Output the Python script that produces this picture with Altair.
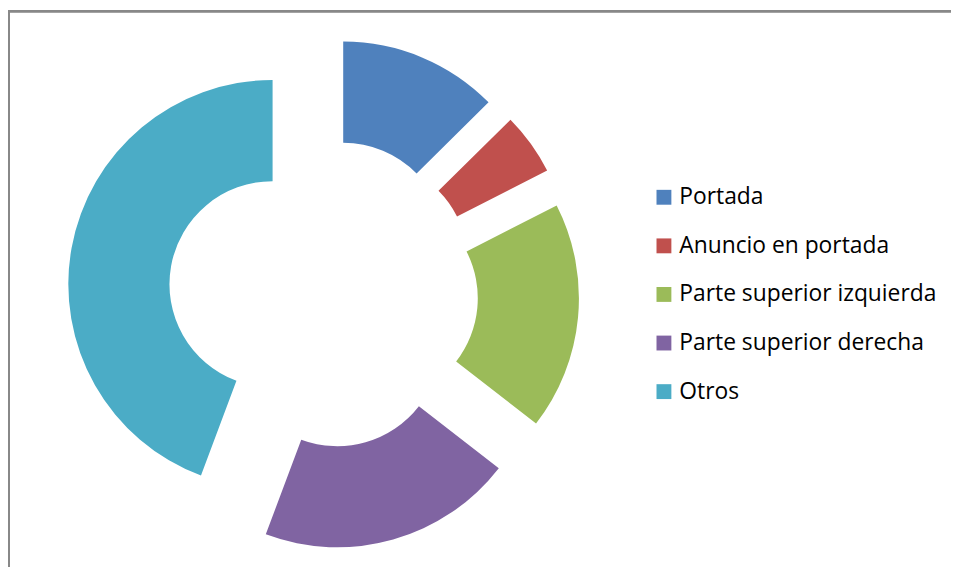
import altair as alt
import pandas as pd

categories = ["Portada", "Anuncio en portada", "Parte superior izquierda",
              "Parte superior derecha", "Otros"]
values = [12.6, 4.9, 18.0, 20.2, 44.3]
colors = ["#4F81BD", "#C0504D", "#9BBB59", "#8064A2", "#4BACC6"]

W, H = 951, 561
CX, CY = 318, 285.5     # donut centre (px)
R_OUT, R_IN = 206, 104  # radii (px)
EXPLODE = 52            # explosion offset (px)

df = pd.DataFrame({"cat": categories, "val": values, "order": list(range(len(values)))})

donut = (
    alt.Chart(df)
    .transform_joinaggregate(total="sum(val)")
    .transform_window(cum="sum(val)", sort=[alt.SortField("order")], frame=[None, 0])
    .transform_calculate(
        t1="2*PI*datum.cum/datum.total",
        t0="2*PI*(datum.cum-datum.val)/datum.total",
    )
    .transform_calculate(mid="(datum.t0+datum.t1)/2")
    .transform_calculate(
        ex=f"{CX}+{EXPLODE}*sin(datum.mid)",
        ey=f"{CY}-{EXPLODE}*cos(datum.mid)",
    )
    .mark_arc(radius=R_OUT, radius2=R_IN, stroke=None)
    .encode(
        theta=alt.Theta("t0:Q", scale=None),
        theta2="t1:Q",
        x=alt.X("ex:Q", scale=None, axis=None),
        y=alt.Y("ey:Q", scale=None, axis=None),
        color=alt.Color(
            "cat:N",
            scale=alt.Scale(domain=categories, range=colors),
            legend=alt.Legend(
                title=None,
                orient="none",
                legendX=650,
                legendY=177,
                symbolType="square",
                symbolSize=225,
                symbolStrokeWidth=0,
                symbolOpacity=1,
                labelFont="Open Sans",
                labelFontSize=23,
                labelColor="#000000",
                labelOffset=4,
                labelLimit=0,
                rowPadding=25,
                padding=0,
            ),
        ),
        order=alt.Order("order:Q"),
    )
)

frame_left = alt.Chart(df).mark_rule(color="#888888", strokeWidth=2).encode(
    x=alt.value(1), y=alt.value(0), y2=alt.value(H)
)
frame_top = alt.Chart(df).mark_rule(color="#888888", strokeWidth=2).encode(
    x=alt.value(0), x2=alt.value(W), y=alt.value(1)
)

chart = (
    alt.layer(donut, frame_left, frame_top)
    .properties(width=W, height=H, autosize=alt.AutoSizeParams(type="none"), padding=0)
    .configure_view(stroke=None)
)

chart.save("out.html", embed_options={"renderer": "svg", "actions": False})
